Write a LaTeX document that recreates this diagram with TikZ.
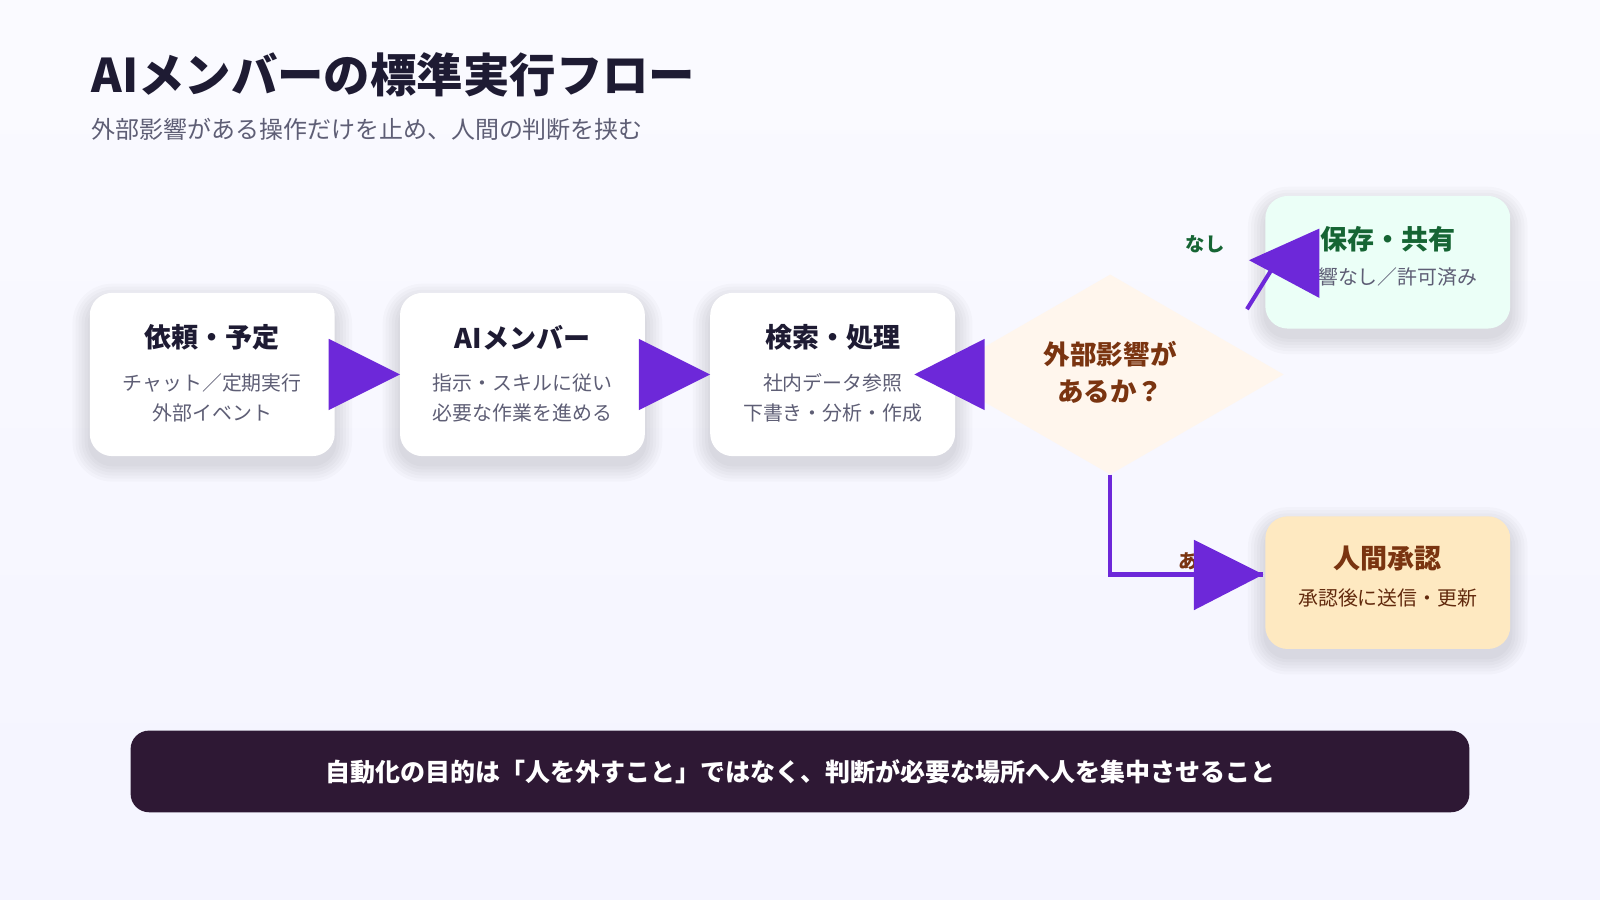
\documentclass[tikz,border=0pt]{standalone}
\usepackage{fontspec}
\setmainfont{Noto Sans CJK JP}
\usetikzlibrary{shapes.geometric}
\definecolor{ink}{HTML}{1E1B33}
\definecolor{sub}{HTML}{5E5E75}
\definecolor{pur}{HTML}{6D28D9}
\definecolor{brn}{HTML}{7A3410}
\definecolor{grn}{HTML}{166534}
\tikzset{x=1pt,y=-1pt,
 box/.style={draw=none,rounded corners=22pt,minimum width=240pt,minimum height=160pt},
 ttl/.style={font=\fontsize{26.5}{30}\selectfont\bfseries,text=ink},
 st/.style={font=\fontsize{19.5}{29}\selectfont,text=sub,align=center},
 tri/.style={fill=pur,draw=none},
 shadow/.style={fill=black,opacity=0.018,draw=none}}
\begin{document}
\begin{tikzpicture}
\useasboundingbox (0,0) rectangle (1568,882);
\fill[top color=white!97!blue!60,bottom color=white!94!blue!70] (0,0) rectangle (1568,882);
\node[anchor=west,font=\fontsize{45.5}{50}\selectfont\bfseries,text=ink] (title) at (86,73) {AIメンバーの標準実行フロー};
\node[anchor=west,font=\fontsize{23.5}{26}\selectfont,text=sub] (subtitle) at (86,127) {外部影響がある操作だけを止め、人間の判断を挟む};
% soft shadows
\foreach \x/\y/\h in {88/287/160,392/287/160,696/287/160,1240/192/130,1240/506/130}
  \foreach \s in {2,5,8,11,14,17}
    \fill[shadow,rounded corners=22pt+\s] (\x-\s,\y+8-\s) rectangle ++(240+2*\s,\h+2*\s);
\node[box,fill=white] (b1) at (208,367) {};
\node[ttl] at (208,331) {依頼・予定};
\node[st] at (208,390) {チャット／定期実行\\外部イベント};
\node[box,fill=white] (b2) at (512,367) {};
\node[ttl] at (512,331) {AIメンバー};
\node[st] at (512,390) {指示・スキルに従い\\必要な作業を進める};
\node[box,fill=white] (b3) at (816,367) {};
\node[ttl] at (816,331) {検索・処理};
\node[st] at (816,390) {社内データ参照\\下書き・分析・作成};
\node[diamond,fill=white!60!orange!18,minimum width=340pt,minimum height=196pt,aspect=1.73,inner sep=0] (d) at (1088,367) {};
\node[font=\fontsize{26}{36}\selectfont\bfseries,text=brn,align=center] at (1088,365) {外部影響が\\あるか？};
\node[box,fill=green!40!cyan!8,minimum height=130pt] (g) at (1360,257) {};
\node[ttl,text=grn] at (1360,234) {保存・共有};
\node[st] at (1360,271) {影響なし／許可済み};
\node[box,fill=yellow!30!orange!22,minimum height=130pt] (h) at (1360,571) {};
\node[ttl,text=brn] at (1360,547) {人間承認};
\node[st,text=brn!80!black] at (1360,586) {承認後に送信・更新};
% connectors
\coordinate (c1) at (1088,563);
\node[font=\fontsize{19}{20}\selectfont\bfseries,text=brn] (ari) at (1174,550) {あり};
\node[font=\fontsize{19}{20}\selectfont\bfseries,text=grn] (nashi) at (1181,239) {なし};
\draw[pur,line width=4pt] (d.south) -- (c1) -- (1238,563);
\draw[pur,line width=4pt] (1222,303) -- (1250,258);
\fill[tri] (392,367) -- (322,332) -- (322,402) -- cycle;
\fill[tri] (696,367) -- (626,332) -- (626,402) -- cycle;
\fill[tri] (896,367) -- (965,332) -- (965,402) -- cycle;
\fill[tri] (1224,255) -- (1293,224) -- (1293,292) -- cycle;
\fill[tri] (1238,563) -- (1170,529) -- (1170,598) -- cycle;
\node[fill=ink!90!purple,rounded corners=18pt,minimum width=1312pt,minimum height=80pt,text=white,font=\fontsize{24.5}{28}\selectfont\bfseries] (banner) at (784,756) {自動化の目的は「人を外すこと」ではなく、判断が必要な場所へ人を集中させること};
\end{tikzpicture}
\end{document}
